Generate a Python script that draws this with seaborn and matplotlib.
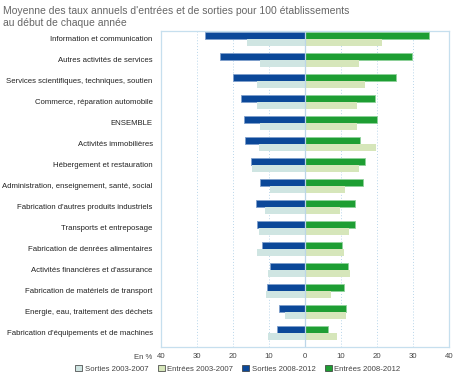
import pandas as pd
import seaborn as sns
import matplotlib.pyplot as plt
from matplotlib.patches import Patch

# Données (taux pour 100 établissements)
secteurs = ['Information et communication', 'Autres activités de services',
            'Services scientifiques, techniques, soutien', 'Commerce, réparation automobile',
            'ENSEMBLE', 'Activités immobilières', 'Hébergement et restauration',
            'Administration, enseignement, santé, social', "Fabrication d'autres produits industriels",
            'Transports et entreposage', 'Fabrication de denrées alimentaires',
            'Activités financières et d\'assurance', 'Fabrication de matériels de transport',
            'Energie, eau, traitement des déchets', "Fabrication d'équipements et de machines"]
sorties_0812 = [27.7, 23.6, 20.0, 17.7, 16.9, 16.6, 14.9, 12.5, 13.7, 13.2, 11.9, 9.6, 10.6, 7.1, 7.9]
entrees_0812 = [34.4, 29.7, 25.4, 19.5, 19.9, 15.4, 16.6, 16.2, 14.0, 13.8, 10.4, 12.0, 10.8, 11.3, 6.5]
sorties_0307 = [16.1, 12.6, 13.3, 13.3, 12.6, 12.9, 14.7, 9.8, 11.0, 12.9, 13.3, 10.2, 10.7, 5.5, 10.2]
entrees_0307 = [21.5, 14.9, 16.6, 14.4, 14.4, 19.6, 14.9, 11.1, 9.6, 12.1, 10.9, 12.4, 7.1, 11.3, 8.8]
periodes = ['2008-2012', '2003-2007']

sorties = pd.DataFrame({
    'secteur': secteurs * 2,
    'periode': ['2008-2012'] * 15 + ['2003-2007'] * 15,
    'taux': [-v for v in sorties_0812] + [-v for v in sorties_0307],
})
entrees = pd.DataFrame({
    'secteur': secteurs * 2,
    'periode': ['2008-2012'] * 15 + ['2003-2007'] * 15,
    'taux': entrees_0812 + entrees_0307,
})

bleu, vert = '#0b4899', '#1e9e33'
bleu_clair, vert_clair = '#cfe5e2', '#d6e6ba'
gris = '#444444'

plt.rcParams['font.family'] = ['Liberation Sans', 'DejaVu Sans']
fig = plt.figure(figsize=(4.53, 3.82), dpi=100)
ax = fig.add_axes([0.3554, 0.0916, 0.6358, 0.8272])

sns.barplot(data=sorties, x='taux', y='secteur', hue='periode', hue_order=periodes,
            palette=[bleu, bleu_clair], orient='h', width=0.667, saturation=1,
            legend=False, ax=ax, order=secteurs)
sns.barplot(data=entrees, x='taux', y='secteur', hue='periode', hue_order=periodes,
            palette=[vert, vert_clair], orient='h', width=0.667, saturation=1,
            legend=False, ax=ax, order=secteurs)

# contour clair autour des barres foncées
for p in ax.patches:
    fc = p.get_facecolor()
    if fc[2] > 0.5 and fc[0] < 0.2:
        p.set_edgecolor('#7f9fcc'); p.set_linewidth(0.6)
    elif fc[1] > 0.55 and fc[0] < 0.3:
        p.set_edgecolor('#8fd19a'); p.set_linewidth(0.6)
    else:
        p.set_linewidth(0)

ax.set_xlim(-40, 40)
ax.set_ylim(14.67, -0.37)
ax.set_xticks([-40, -30, -20, -10, 0, 10, 20, 30, 40])
ax.set_xticklabels(['40', '30', '20', '10', '0', '10', '20', '30', '40'])
for x in [-30, -20, -10, 10, 20, 30]:
    ax.axvline(x, color='#b9d6ea', lw=0.7, ls=(0, (1, 2)), zorder=0)
ax.axvline(0, color='#bcd6e8', lw=0.9, zorder=3)
for s in ax.spines.values():
    s.set_color('#c6dfee')
    s.set_linewidth(0.9)
ax.tick_params(axis='both', length=0, colors=gris, labelsize=5.6, pad=4)
ax.tick_params(axis='y', pad=6)
for lab in ax.get_yticklabels():
    lab.set_fontsize(5.6)
    lab.set_color('#222222')
ax.set_xlabel('')
ax.set_ylabel('')

fig.text(0.296, 0.064, 'En %', ha='left', va='center', fontsize=5.6, color=gris)
fig.text(0.006, 0.984, "Moyenne des taux annuels d'entrées et de sorties pour 100 établissements\nau début de chaque année",
         ha='left', va='top', fontsize=7.5, color='#666666', linespacing=1.25)

handles = [Patch(facecolor=bleu_clair, edgecolor='#333333', lw=0.5, label='Sorties 2003-2007'),
           Patch(facecolor=vert_clair, edgecolor='#333333', lw=0.5, label='Entrées 2003-2007'),
           Patch(facecolor=bleu, edgecolor='#333333', lw=0.5, label='Sorties 2008-2012'),
           Patch(facecolor=vert, edgecolor='#333333', lw=0.5, label='Entrées 2008-2012')]
fig.legend(handles=handles, loc='center', bbox_to_anchor=(0.525, 0.035), ncol=4, frameon=False,
           fontsize=5.6, handlelength=0.9, handleheight=0.9, handletextpad=0.3, columnspacing=1.2,
           labelcolor=gris)

fig.savefig('out.png', dpi=100)
